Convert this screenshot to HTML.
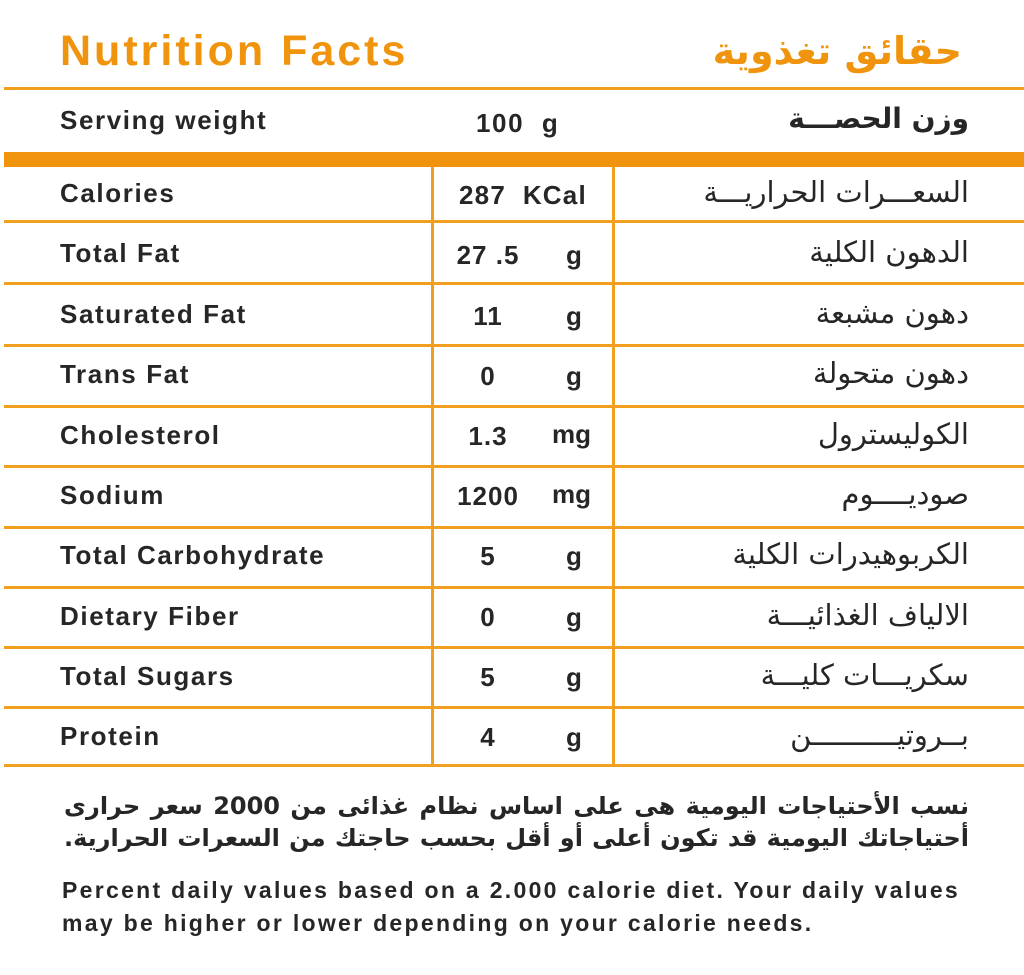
<!DOCTYPE html>
<html><head><meta charset="utf-8"><style>
body{margin:0;width:1024px;height:975px;background:#fff;position:relative;overflow:hidden;font-family:"Liberation Sans","DejaVu Sans",sans-serif;color:#222}
.h{position:absolute;left:4px;right:0;height:3px;background:#f0a01e}
.v{position:absolute;top:167px;height:599px;width:3px;background:#f0a01e}
.t{position:absolute;white-space:nowrap;font-size:26px;line-height:30px;font-weight:bold;letter-spacing:1.6px;color:#262626}
.ar{position:absolute;right:55px;white-space:nowrap;font-size:29px;line-height:30px;font-family:"DejaVu Sans",sans-serif;direction:rtl;color:#262626}
.n{position:absolute;width:80px;text-align:center;font-size:26px;line-height:30px;left:448px;font-weight:bold;letter-spacing:1px;color:#262626}
.u{position:absolute;font-size:26px;line-height:30px;left:566px;font-weight:bold;color:#262626}
</style></head><body>
<div class="t" style="left:60px;top:26px;font-size:43px;line-height:50px;color:#ef940c;letter-spacing:3px">Nutrition Facts</div>
<div class="ar" style="right:62px;top:28px;font-size:38px;line-height:46px;color:#ef940c;font-weight:bold">حقائق تغذوية</div>
<div class="h" style="top:87px"></div>
<div class="t" style="left:60px;top:105px">Serving weight</div>
<div class="t" style="left:476px;top:108px;font-size:26px">100&nbsp;&nbsp;g</div>
<div class="ar" style="top:104px;font-weight:bold;font-size:28px">وزن الحصـــة</div>
<div class="h" style="top:152px;height:15px;background:#ef940c"></div>
<div class="v" style="left:431px"></div>
<div class="v" style="left:612px"></div>
<div class="h" style="top:220px"></div>
<div class="h" style="top:282px"></div>
<div class="h" style="top:344px"></div>
<div class="h" style="top:405px"></div>
<div class="h" style="top:465px"></div>
<div class="h" style="top:526px"></div>
<div class="h" style="top:586px"></div>
<div class="h" style="top:646px"></div>
<div class="h" style="top:706px"></div>
<div class="h" style="top:764px"></div>

<div class="t" style="left:60px;top:178px">Calories</div>
<div class="t" style="left:459px;top:180px;font-size:26px;letter-spacing:1.2px">287&nbsp;&nbsp;KCal</div>
<div class="ar" style="top:177px">السعـــرات الحراريـــة</div>

<div class="t" style="left:60px;top:238px">Total Fat</div>
<div class="n" style="top:240px">27 .5</div><div class="u" style="top:240px">g</div>
<div class="ar" style="top:237px">الدهون الكلية</div>

<div class="t" style="left:60px;top:299px">Saturated Fat</div>
<div class="n" style="top:301px">11</div><div class="u" style="top:301px">g</div>
<div class="ar" style="top:298px">دهون مشبعة</div>

<div class="t" style="left:60px;top:359px">Trans Fat</div>
<div class="n" style="top:361px">0</div><div class="u" style="top:361px">g</div>
<div class="ar" style="top:358px">دهون متحولة</div>

<div class="t" style="left:60px;top:420px">Cholesterol</div>
<div class="n" style="top:421px">1.3</div><div class="u" style="top:419px;left:552px">mg</div>
<div class="ar" style="top:419px">الكوليسترول</div>

<div class="t" style="left:60px;top:480px">Sodium</div>
<div class="n" style="top:481px">1200</div><div class="u" style="top:479px;left:552px">mg</div>
<div class="ar" style="top:479px">صوديــــوم</div>

<div class="t" style="left:60px;top:540px">Total Carbohydrate</div>
<div class="n" style="top:541px">5</div><div class="u" style="top:541px">g</div>
<div class="ar" style="top:539px">الكربوهيدرات الكلية</div>

<div class="t" style="left:60px;top:601px">Dietary Fiber</div>
<div class="n" style="top:602px">0</div><div class="u" style="top:602px">g</div>
<div class="ar" style="top:600px">الالياف الغذائيـــة</div>

<div class="t" style="left:60px;top:661px">Total Sugars</div>
<div class="n" style="top:662px">5</div><div class="u" style="top:662px">g</div>
<div class="ar" style="top:660px">سكريـــات كليـــة</div>

<div class="t" style="left:60px;top:721px">Protein</div>
<div class="n" style="top:722px">4</div><div class="u" style="top:722px">g</div>
<div class="ar" style="top:720px">بــروتيــــــــــن</div>

<div class="ar" style="right:55px;top:790px;font-size:24px;font-weight:bold;line-height:32px;width:905px;white-space:normal;text-align:justify;text-align-last:justify">نسب الأحتياجات اليومية هى على اساس نظام غذائى من 2000 سعر حرارى</div>
<div class="ar" style="right:55px;top:822px;font-size:24px;font-weight:bold;line-height:32px;width:905px;white-space:normal;text-align:justify;text-align-last:justify">أحتياجاتك اليومية قد تكون أعلى أو أقل بحسب حاجتك من السعرات الحرارية.</div>
<div class="t" style="left:62px;top:874px;font-size:23px;line-height:33px;letter-spacing:2.3px">Percent daily values based on a 2.000 calorie diet. Your daily values<br>may be higher or lower depending on your calorie needs.</div>
</body></html>
